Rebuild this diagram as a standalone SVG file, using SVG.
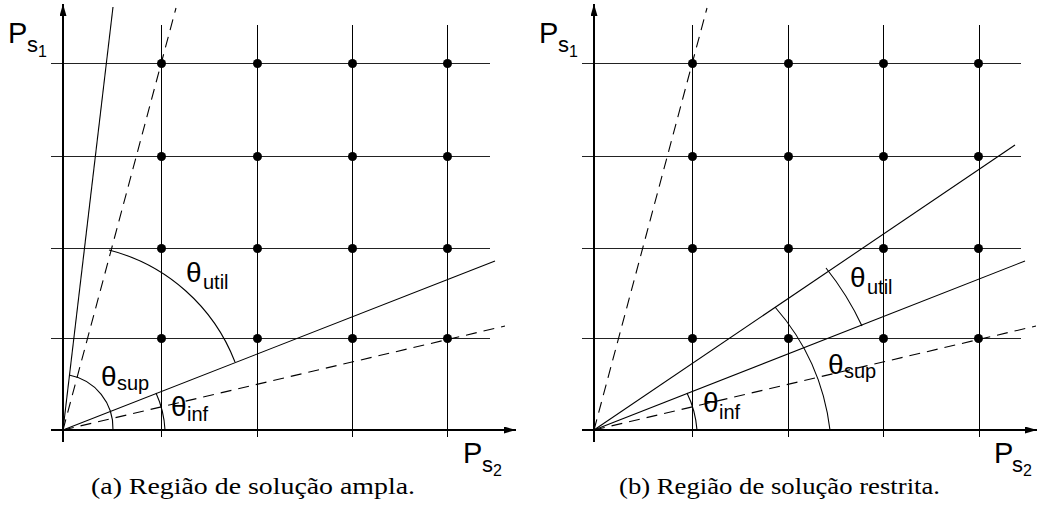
<svg xmlns="http://www.w3.org/2000/svg" width="1039" height="524" viewBox="0 0 1039 524">
<style>
.grid{stroke:#000;stroke-width:1;fill:none;shape-rendering:crispEdges}
.gh{stroke:#222;stroke-width:1;fill:none;shape-rendering:crispEdges}
.axis{stroke:#000;stroke-width:2;fill:none}
.ln{stroke:#000;stroke-width:1.1;fill:none}
.dash{stroke:#000;stroke-width:1.1;fill:none;stroke-dasharray:11 7}
.arc{stroke:#000;stroke-width:1.1;fill:none}
.dot{fill:#000}
.lbl{font-family:"Liberation Sans",Arial,sans-serif;fill:#000}
.cap{font-family:"Liberation Serif","Times New Roman",serif;font-size:24px;fill:#000}
</style>
<defs>
<marker id="ah" viewBox="0 0 12 7" refX="12" refY="3.5" markerWidth="12" markerHeight="7" markerUnits="userSpaceOnUse" orient="auto">
<path d="M0,0 L12,3.5 L0,7 Z" fill="#000"/>
</marker>
<g id="dots">
<circle class="dot" cx="0" cy="63" r="4.5"/><circle class="dot" cx="96" cy="63" r="4.5"/><circle class="dot" cx="191" cy="63" r="4.5"/><circle class="dot" cx="286" cy="63" r="4.5"/>
<circle class="dot" cx="0" cy="156" r="4.5"/><circle class="dot" cx="96" cy="156" r="4.5"/><circle class="dot" cx="191" cy="156" r="4.5"/><circle class="dot" cx="286" cy="156" r="4.5"/>
<circle class="dot" cx="0" cy="248" r="4.5"/><circle class="dot" cx="96" cy="248" r="4.5"/><circle class="dot" cx="191" cy="248" r="4.5"/><circle class="dot" cx="286" cy="248" r="4.5"/>
<circle class="dot" cx="0" cy="338" r="4.5"/><circle class="dot" cx="96" cy="338" r="4.5"/><circle class="dot" cx="191" cy="338" r="4.5"/><circle class="dot" cx="286" cy="338" r="4.5"/>
</g>
</defs>
<rect width="1039" height="524" fill="#fff"/>

<!-- Panel (a) -->
<g id="gridA">
<line class="gh" x1="51" y1="63.5" x2="490" y2="63.5"/>
<line class="gh" x1="51" y1="156.5" x2="490" y2="156.5"/>
<line class="gh" x1="51" y1="248.5" x2="490" y2="248.5"/>
<line class="gh" x1="51" y1="338.5" x2="490" y2="338.5"/>
<line class="grid" x1="161.5" y1="25" x2="161.5" y2="437"/>
<line class="grid" x1="257.5" y1="25" x2="257.5" y2="437"/>
<line class="grid" x1="352.5" y1="25" x2="352.5" y2="437"/>
<line class="grid" x1="447.5" y1="25" x2="447.5" y2="437"/>
</g>
<g id="axesA">
<line class="axis" x1="63" y1="442" x2="63" y2="4" marker-end="url(#ah)"/>
<line class="axis" x1="51" y1="430" x2="516" y2="430" marker-end="url(#ah)"/>
</g>
<g id="dotsA"><use href="#dots" x="161.5" y="0.5"/></g>
<g id="connectorsA">
<line class="ln" x1="63" y1="430" x2="113" y2="7"/>
<line class="dash" x1="63" y1="430" x2="176" y2="8"/>
<line class="ln" x1="63" y1="430" x2="495" y2="261"/>
<line class="dash" x1="63" y1="430" x2="505" y2="326"/>
<path class="arc" d="M109,250 A184,184 0 0 1 235,362"/>
<path class="arc" d="M69,375 A54,54 0 0 1 113,430"/>
<path class="arc" d="M156,393 A101,101 0 0 1 165,430"/>
</g>
<g id="labelsA" class="lbl">
<text x="8" y="43" font-size="29">P</text><text x="27" y="52" font-size="22">s</text><text x="38" y="57" font-size="16">1</text>
<text x="463" y="463" font-size="29">P</text><text x="482" y="472" font-size="22">s</text><text x="493" y="476" font-size="16">2</text>
<text x="186" y="282" font-size="28">θ</text><text x="203" y="289" font-size="20">util</text>
<text x="101" y="386" font-size="28">θ</text><text x="117" y="390" font-size="20">sup</text>
<text x="171" y="416" font-size="28">θ</text><text x="187" y="421" font-size="20">inf</text>
</g>
<text class="cap" x="91" y="494" textLength="324" lengthAdjust="spacingAndGlyphs">(a) Região de solução ampla.</text>

<!-- Panel (b) -->
<g id="gridB">
<line class="gh" x1="582" y1="63.5" x2="1021" y2="63.5"/>
<line class="gh" x1="582" y1="156.5" x2="1021" y2="156.5"/>
<line class="gh" x1="582" y1="248.5" x2="1021" y2="248.5"/>
<line class="gh" x1="582" y1="338.5" x2="1021" y2="338.5"/>
<line class="grid" x1="692.5" y1="25" x2="692.5" y2="437"/>
<line class="grid" x1="788.5" y1="25" x2="788.5" y2="437"/>
<line class="grid" x1="883.5" y1="25" x2="883.5" y2="437"/>
<line class="grid" x1="979.5" y1="25" x2="979.5" y2="437"/>
</g>
<g id="axesB">
<line class="axis" x1="594" y1="442" x2="594" y2="4" marker-end="url(#ah)"/>
<line class="axis" x1="582" y1="430" x2="1037" y2="430" marker-end="url(#ah)"/>
</g>
<g id="dotsB"><use href="#dots" x="692.5" y="0.5"/></g>
<g id="connectorsB">
<line class="dash" x1="594" y1="430" x2="707" y2="8"/>
<line class="ln" x1="594" y1="430" x2="1015" y2="145"/>
<line class="ln" x1="594" y1="430" x2="1025" y2="261"/>
<line class="dash" x1="594" y1="430" x2="1036" y2="326"/>
<path class="arc" d="M826,268 A285,285 0 0 1 862,326"/>
<path class="arc" d="M775,307 A228,228 0 0 1 830,430"/>
<path class="arc" d="M687,393 A101,101 0 0 1 697,430"/>
</g>
<g id="labelsB" class="lbl">
<text x="539" y="43" font-size="29">P</text><text x="558" y="52" font-size="22">s</text><text x="569" y="57" font-size="16">1</text>
<text x="994" y="463" font-size="29">P</text><text x="1012" y="472" font-size="22">s</text><text x="1023" y="476" font-size="16">2</text>
<text x="850" y="287" font-size="28">θ</text><text x="867" y="294" font-size="20">util</text>
<text x="828" y="374" font-size="28">θ</text><text x="844" y="378" font-size="20">sup</text>
<text x="703" y="412" font-size="28">θ</text><text x="719" y="419" font-size="20">inf</text>
</g>
<text class="cap" x="619" y="494" textLength="321" lengthAdjust="spacingAndGlyphs">(b) Região de solução restrita.</text>
</svg>
